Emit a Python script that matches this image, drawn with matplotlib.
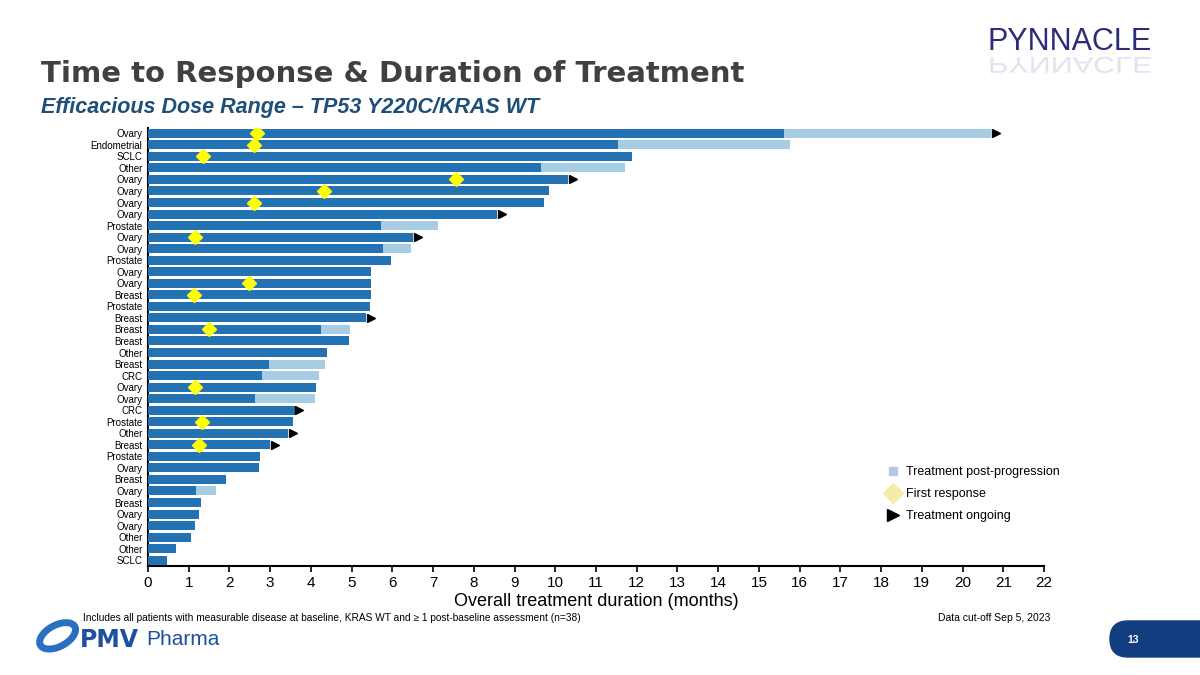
import numpy as np
import matplotlib.pyplot as plt
from matplotlib.patches import FancyBboxPatch, Ellipse, PathPatch
from matplotlib.lines import Line2D
from matplotlib.textpath import TextPath
from matplotlib.font_manager import FontProperties
from matplotlib.transforms import Affine2D, IdentityTransform

# tumour type per patient, top to bottom
tumor = ["Ovary", "Endometrial", "SCLC", "Other", "Ovary", "Ovary", "Ovary", "Ovary",
         "Prostate", "Ovary", "Ovary", "Prostate", "Ovary", "Ovary", "Breast", "Prostate",
         "Breast", "Breast", "Breast", "Other", "Breast", "CRC", "Ovary", "Ovary",
         "CRC", "Prostate", "Other", "Breast", "Prostate", "Ovary", "Breast", "Ovary",
         "Breast", "Ovary", "Ovary", "Other", "Other", "SCLC"]

# months on treatment before progression
treat = [15.61, 11.54, 11.88, 9.65, 10.31, 9.85, 9.72, 8.57,
         5.72, 6.51, 5.78, 5.97, 5.48, 5.48, 5.48, 5.44,
         5.35, 4.25, 4.94, 4.39, 2.98, 2.81, 4.12, 2.62,
         3.60, 3.57, 3.44, 3.00, 2.75, 2.72, 1.92, 1.17,
         1.30, 1.26, 1.16, 1.06, 0.70, 0.47]

# total duration including post-progression treatment (nan = none)
nan = np.nan
total = [20.69, 15.77, nan, 11.72, nan, nan, nan, nan,
         7.12, nan, 6.46, nan, nan, nan, nan, nan,
         nan, 4.97, nan, nan, 4.35, 4.19, nan, 4.09,
         nan, nan, nan, nan, nan, nan, nan, 1.66,
         nan, nan, nan, nan, nan, nan]

# time of first response (nan = no response)
response = [2.68, 2.60, 1.35, nan, 7.56, 4.32, 2.60, nan,
            nan, 1.16, nan, nan, nan, 2.48, 1.13, nan,
            nan, 1.49, nan, nan, nan, nan, 1.16, nan,
            nan, 1.33, nan, 1.26, nan, nan, nan, nan,
            nan, nan, nan, nan, nan, nan]

# treatment ongoing flag
ongoing = [1, 0, 0, 0, 1, 0, 0, 1,
           0, 1, 0, 0, 0, 0, 0, 0,
           1, 0, 0, 0, 0, 0, 0, 0,
           1, 0, 1, 1, 0, 0, 0, 0,
           0, 0, 0, 0, 0, 0]

dark = "#2272b4"
light = "#a6cde3"

plt.rcParams['font.family'] = ['Liberation Sans', 'DejaVu Sans']

fig = plt.figure(figsize=(12, 6.75), dpi=100)
ax = fig.add_axes([0.1233, 0.1615, 0.7467, 0.6496])

y = np.arange(len(tumor))
treat = np.array(treat)
total = np.array(total)
response = np.array(response)
ongoing = np.array(ongoing, dtype=bool)

post = np.where(np.isnan(total), 0, total - treat)
ax.barh(y, post, left=treat, height=0.78, color=light, zorder=2)
ax.barh(y, treat, height=0.78, color=dark, zorder=3)

end = np.where(np.isnan(total), treat, total)
ax.plot(end[ongoing] + 0.12, y[ongoing], linestyle="none", marker=">",
        color="black", markersize=6, zorder=4)
ax.plot(response, y, linestyle="none", marker="D", color="#ffff00",
        markersize=7, zorder=5)

ax.set_ylim(len(tumor) - 0.5, -0.5)
ax.set_xlim(0, 22)
ax.set_yticks(y)
ax.set_yticklabels(tumor, fontsize=7)
ax.set_xticks(range(0, 23))
ax.tick_params(axis="x", labelsize=11, length=4, width=1.2)
ax.tick_params(axis="y", length=0, pad=4)
ax.spines["top"].set_visible(False)
ax.spines["right"].set_visible(False)
ax.spines["left"].set_linewidth(1.5)
ax.spines["bottom"].set_linewidth(1.5)
ax.set_xlabel("Overall treatment duration (months)", fontsize=13, labelpad=2)

handles = [
    Line2D([], [], linestyle="none", marker="s", color="#b4c8e4", markersize=6),
    Line2D([], [], linestyle="none", marker="D", color="#f3eda6", markersize=10),
    Line2D([], [], linestyle="none", marker=">", color="black", markersize=8),
]
ax.legend(handles, ["Treatment post-progression", "First response", "Treatment ongoing"],
          loc="lower right", bbox_to_anchor=(1.03, 0.074), frameon=False,
          fontsize=9, handletextpad=0.4, labelspacing=0.8, handlelength=1.2)

fig.text(0.034, 0.891, "Time to Response & Duration of Treatment", fontsize=21,
         fontweight="bold", family="DejaVu Sans", color="#404040", va="center")
fig.text(0.034, 0.840, "Efficacious Dose Range \u2013 TP53 Y220C/KRAS WT", fontsize=15.5,
         fontweight="bold", style="italic", color="#1f4e79", va="center")

fig.text(0.069, 0.084, "Includes all patients with measurable disease at baseline, "
         "KRAS WT and \u2265 1 post-baseline assessment (n=38)", fontsize=7.25, va="center")
fig.text(0.875, 0.084, "Data cut-off Sep 5, 2023", fontsize=7.5, va="center", ha="right")

# page number tab (pixel coordinates)
fig.patches.append(FancyBboxPatch((1110, 675 - 657), 130, 36,
                                  boxstyle="round,pad=0,rounding_size=18",
                                  transform=IdentityTransform(), color="#123e80"))
fig.text(1127 / 1200, 1 - 640 / 675, "13", color="white", fontsize=7.5,
         fontweight="bold", va="center")

# PMV Pharma logo
fig.patches.append(Ellipse((0.048, 0.058), 0.024, 0.043, angle=-30, transform=fig.transFigure,
                           facecolor="none", edgecolor="#2a6fc0", linewidth=5))
fig.text(80 / 1200, 0.052, "PMV", fontsize=17, fontweight="bold", family="DejaVu Sans",
         color="#1f4fa0", va="center")
fig.text(146 / 1200, 0.052, "Pharma", fontsize=15, color="#1f4fa0", va="center")

# PYNNACLE logo with faded reflection
fig.text(0.823, 0.938, "PYNNACLE", fontsize=22, color="#2b2d7a", va="center")
tp = TextPath((0, 0), "PYNNACLE", size=30.5, prop=FontProperties(family="Liberation Sans"))
refl = Affine2D().scale(1, -0.75).translate(988, 675 - 57)
fig.patches.append(PathPatch(tp, transform=refl, facecolor="#d5d8e8", edgecolor="none", alpha=0.7))

fig.savefig("out.png", dpi=100)
